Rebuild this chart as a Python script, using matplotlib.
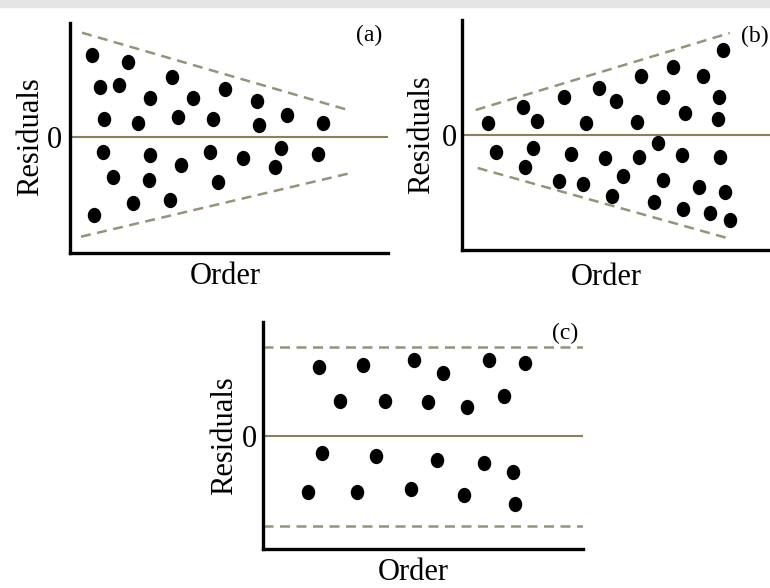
import matplotlib
matplotlib.use('Agg')
import matplotlib.pyplot as plt
from matplotlib.patches import Rectangle
from matplotlib.path import Path
from matplotlib.transforms import Affine2D

plt.rcParams['font.family'] = ['Liberation Serif', 'DejaVu Serif']

# residuals vs. order for the three patterns
# (a) funnel closing
order_a = [2.2, 5.8, 3.0, 4.9, 10.2, 8.0, 12.3, 15.5, 18.7, 3.4, 6.8, 10.8, 14.3, 18.9, 21.7, 25.3,
           3.3, 8.0, 14.0, 17.3, 21.1, 24.8, 4.3, 7.9, 11.1, 14.8, 20.5, 2.4, 6.3, 10.0]
resid_a = [8.2, 7.5, 5.0, 5.2, 6.0, 3.9, 3.9, 4.8, 3.6, 1.8, 1.4, 2.0, 1.8, 1.2, 2.2, 1.4,
           -1.5, -1.8, -1.5, -2.1, -1.1, -1.7, -4.0, -4.3, -2.8, -4.5, -3.0, -7.8, -6.6, -6.3]
upper_a = ([1.2, 27.7], [10.4, 2.7])
lower_a = ([1.1, 28.2], [-10.0, -3.6])

# (b) funnel opening
order_b = [2.6, 6.1, 7.5, 10.2, 12.4, 13.7, 15.4, 17.5, 17.9, 20.1, 21.1, 22.3, 24.1, 25.7, 25.6, 26.1,
           3.4, 7.1, 6.3, 10.9, 9.7, 12.1, 14.3, 16.1, 15.0, 17.7, 19.6, 20.1, 19.2, 22.0, 22.1, 23.7,
           25.8, 26.3, 24.8, 26.8]
resid_b = [1.2, 2.8, 1.4, 3.8, 1.2, 4.7, 3.4, 1.3, 5.9, 3.8, 6.8, 2.2, 5.9, 3.8, 1.6, 8.5,
           -1.7, -1.3, -3.2, -1.9, -4.6, -4.9, -2.3, -4.1, -6.1, -2.2, -0.8, -4.5, -6.7, -2.0, -7.4, -5.2,
           -2.2, -5.7, -7.8, -8.5]
upper_b = ([1.4, 26.8], [2.5, 10.2])
lower_b = ([1.6, 26.9], [-3.3, -10.4])

# (c) constant band
order_c = [5.6, 10.0, 15.1, 18.0, 22.6, 26.2, 7.7, 12.2, 16.5, 20.4, 24.1,
           5.9, 11.3, 17.4, 22.1, 25.0, 4.5, 9.4, 14.8, 20.1, 25.2]
resid_c = [6.9, 7.1, 7.6, 6.3, 7.6, 7.3, 3.5, 3.5, 3.4, 2.9, 4.0,
           -1.7, -2.0, -2.4, -2.7, -3.6, -5.6, -5.6, -5.3, -5.9, -6.8]
upper_c = ([0, 32.0], [8.9, 8.9])
lower_c = ([0, 32.0], [-9.0, -9.0])

W, H = 770, 588
fig = plt.figure(figsize=(W / 100, H / 100), dpi=100)
fig.patch.set_facecolor('white')
fig.patches.append(Rectangle((0, 1 - 7 / H), 1, 7 / H, transform=fig.transFigure,
                             color='#e5e5e5', zorder=0))

dot = Path.unit_circle().transformed(Affine2D().scale(1.0, 1.15))
zero_col = '#8c805a'
dash_col = '#98927a'


def panel(box, zero_y, xs, ys, bounds, tag, tag_xy, tag_ha, ylab_x, xlab_xy, pad0):
    left, top, right, bottom = box
    ax = fig.add_axes([left / W, 1 - bottom / H, (right - left) / W, (bottom - top) / H])
    ax.set_xlim(0, (right - left) / 10)
    ax.set_ylim(-(bottom - zero_y) / 10, (zero_y - top) / 10)
    for s in ['top', 'right']:
        ax.spines[s].set_visible(False)
    for s in ['left', 'bottom']:
        ax.spines[s].set_linewidth(2.4)
        ax.spines[s].set_color('black')
    ax.set_xticks([])
    ax.set_yticks([0])
    ax.set_yticklabels(['0'])
    ax.tick_params(axis='y', length=0, pad=pad0, labelsize=22)

    ax.axhline(0, color=zero_col, lw=1.5, zorder=1)
    for bx, by in bounds:
        ax.plot(bx, by, color=dash_col, lw=1.8, linestyle=(0, (4, 2.6)), zorder=1)
    ax.plot(xs, ys, linestyle='none', marker=dot, markersize=10, color='black', zorder=3)

    ax.set_ylabel('Residuals', fontsize=22, va='center')
    ax.yaxis.set_label_coords((ylab_x - left) / (right - left), (bottom - zero_y) / (bottom - top))
    ax.set_xlabel('Order', fontsize=22, va='center')
    ax.xaxis.set_label_coords((xlab_xy[0] - left) / (right - left),
                              (bottom - xlab_xy[1]) / (bottom - top))
    fig.text(tag_xy[0] / W, 1 - tag_xy[1] / H, tag, fontsize=17, ha=tag_ha, va='center')
    return ax


panel((70, 23, 388, 253), 136.7, order_a, resid_a, [upper_a, lower_a],
      '(a)', (369, 35), 'center', 31, (225, 277), 6)
panel((461.7, 20, 800, 250), 135, order_b, resid_b, [upper_b, lower_b],
      '(b)', (741, 36), 'left', 422, (606.7, 278), 3.6)
panel((262.7, 322, 582.7, 549.3), 435.7, order_c, resid_c, [upper_c, lower_c],
      '(c)', (565, 333), 'center', 225, (413.3, 573), 4)

fig.savefig('out.png', dpi=100)
